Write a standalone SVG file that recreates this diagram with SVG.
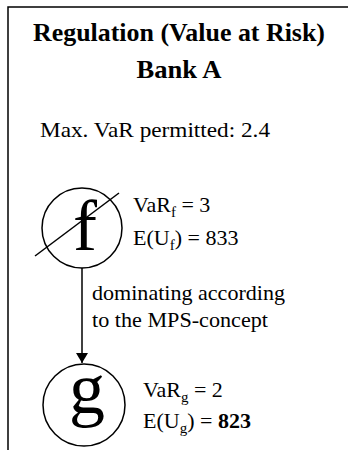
<svg xmlns="http://www.w3.org/2000/svg" width="348" height="450" viewBox="0 0 348 450">
<style>
text{fill:#000}
.t{font-size:26px;font-weight:bold;text-anchor:middle}
.n{font-size:22px}
.s{font-size:15px}
.big{font-size:72px;text-anchor:middle}
.ln{stroke:#000;fill:none;stroke-width:1.5}
</style>
<defs>
<marker id="ah" viewBox="0 0 10 12" refX="10" refY="6" markerWidth="10" markerHeight="12" markerUnits="userSpaceOnUse" orient="auto">
<path d="M0,0 L10,6 L0,12 Z" fill="#000"/>
</marker>
</defs>
<rect width="348" height="450" fill="#fff"/>
<g font-family="Liberation Serif, Times New Roman, DejaVu Serif, serif">
<g id="frame">
<path class="ln" d="M8,450 V7 H348"/>
<text class="t" x="179" y="41" textLength="292" lengthAdjust="spacingAndGlyphs">Regulation (Value at Risk)</text>
<text class="t" x="179" y="78" textLength="85" lengthAdjust="spacingAndGlyphs">Bank A</text>
<text class="n" x="40" y="137" textLength="230" lengthAdjust="spacingAndGlyphs">Max. VaR permitted: 2.4</text>
</g>
<g id="connectors">
<path class="ln" d="M82,268 V363" marker-end="url(#ah)"/>
<text class="n" x="92" y="300" textLength="193" lengthAdjust="spacingAndGlyphs">dominating according</text>
<text class="n" x="92" y="327" textLength="176" lengthAdjust="spacingAndGlyphs">to the MPS-concept</text>
</g>
<g id="node-f">
<circle class="ln" cx="82" cy="228" r="40"/>
<text class="big" x="85" y="250">f</text>
<line class="ln" x1="35" y1="256" x2="119" y2="193"/>
<text class="n" x="133" y="212">VaR<tspan class="s" dy="5">f</tspan><tspan dy="-5"> = 3</tspan></text>
<text class="n" x="133" y="245">E(U<tspan class="s" dy="5">f</tspan><tspan dy="-5">) = 833</tspan></text>
</g>
<g id="node-g">
<circle class="ln" cx="84" cy="405" r="41"/>
<text class="big" x="87" y="413">g</text>
<text class="n" x="143" y="397">VaR<tspan class="s" dy="5">g</tspan><tspan dy="-5"> = 2</tspan></text>
<text class="n" x="143" y="428">E(U<tspan class="s" dy="5">g</tspan><tspan dy="-5">) = </tspan><tspan font-weight="bold">823</tspan></text>
</g>
</g>
</svg>
